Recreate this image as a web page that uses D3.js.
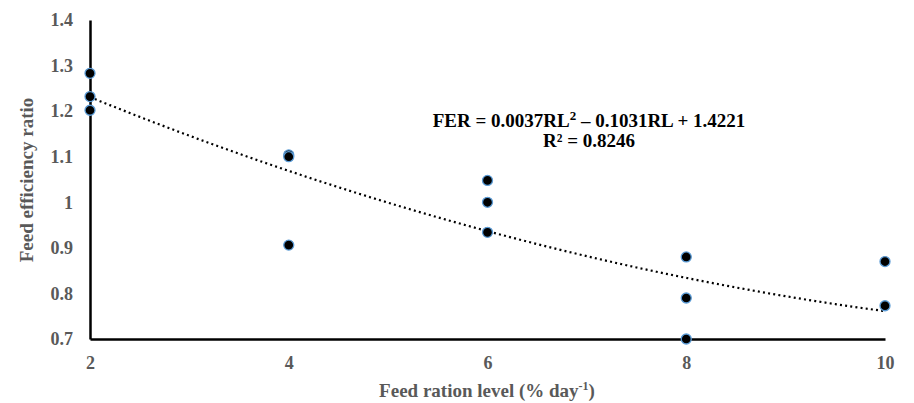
<!DOCTYPE html>
<html>
<head>
<meta charset="utf-8">
<script src="https://cdn.jsdelivr.net/npm/d3@7"></script>
<style>
  body { margin: 0; background: #fff; }
  svg text { font-family: "Liberation Serif", "Times New Roman", serif; font-weight: bold; }
</style>
</head>
<body>
<div id="chart"></div>
<script>
// ration level (% per day) and feed efficiency ratio
var rationLevel = [2, 2, 2, 4, 4, 4, 6, 6, 6, 8, 8, 8, 10, 10];
var fer = [1.283, 1.232, 1.202, 1.104, 1.100, 0.906, 1.048, 1.000, 0.934, 0.880, 0.790, 0.700, 0.870, 0.773];

// quadratic trendline coefficients from the label: a*x^2 + b*x + c
var trendCoef = [0.0037, -0.1031, 1.4221];

var xTicks = [2, 4, 6, 8, 10];
var yTicks = [0.7, 0.8, 0.9, 1, 1.1, 1.2, 1.3, 1.4];

var svgWidth = 914;
var svgHeight = 403;

var svg = d3.select("#chart")
    .append("svg")
        .attr("width", svgWidth)
        .attr("height", svgHeight);

var xScale = d3.scaleLinear()
    .domain([2, 10])
    .range([90, 885]);

var yScale = d3.scaleLinear()
    .domain([0.7, 1.4])
    .range([339, 20]);

var grey = "#595959";

// x axis
var xAxis = d3.axisBottom(xScale)
    .tickValues(xTicks)
    .tickSize(0)
    .tickPadding(17)
    .tickFormat(d3.format("d"));

var gx = svg.append("g")
    .attr("transform", `translate(0, ${yScale(0.7)})`)
    .call(xAxis);
gx.select(".domain").attr("stroke", "#000").attr("stroke-width", 2.5);
gx.selectAll("text")
    .attr("fill", grey)
    .style("font-size", "18px")
    .style("font-family", "'Liberation Serif', serif");

// y axis
var yAxis = d3.axisLeft(yScale)
    .tickValues(yTicks)
    .tickSize(0)
    .tickPadding(17)
    .tickFormat(function (d) { return String(d); });

var gy = svg.append("g")
    .attr("transform", `translate(${xScale(2)}, 0)`)
    .call(yAxis);
gy.select(".domain").attr("stroke", "#000").attr("stroke-width", 2.5);
gy.selectAll("text")
    .attr("fill", grey)
    .style("font-size", "18px")
    .style("font-family", "'Liberation Serif', serif");

// trendline
var trendX = d3.range(2, 10.001, 0.1);
var line = d3.line()
    .x(function (d) { return xScale(d); })
    .y(function (d) { return yScale(trendCoef[0] * d * d + trendCoef[1] * d + trendCoef[2]); });

svg.append("path")
    .datum(trendX)
    .attr("d", line)
    .attr("fill", "none")
    .attr("stroke", "#000")
    .attr("stroke-width", 2.2)
    .attr("stroke-dasharray", "2,3.2");

// points
svg.selectAll("circle.pt")
    .data(rationLevel)
    .enter()
    .append("circle")
        .attr("class", "pt")
        .attr("cx", function (d) { return xScale(d); })
        .attr("cy", function (d, i) { return yScale(fer[i]); })
        .attr("r", 5)
        .attr("fill", "#000")
        .attr("stroke", "#5b9bd5")
        .attr("stroke-width", 1.3);

// equation label
var eq = svg.append("text")
    .attr("x", 589)
    .attr("y", 127)
    .attr("text-anchor", "middle")
    .attr("fill", "#000")
    .style("font-size", "19px");
eq.append("tspan").text("FER = 0.0037RL");
eq.append("tspan").attr("dy", -7).style("font-size", "13px").text("2");
eq.append("tspan").attr("dy", 7).text(" \u2013 0.1031RL + 1.4221");

svg.append("text")
    .attr("x", 589)
    .attr("y", 147)
    .attr("text-anchor", "middle")
    .attr("fill", "#000")
    .style("font-size", "19px")
    .text("R\u00b2 = 0.8246");

// axis titles
var xt = svg.append("text")
    .attr("x", 487)
    .attr("y", 397)
    .attr("text-anchor", "middle")
    .attr("fill", grey)
    .style("font-size", "19px");
xt.append("tspan").text("Feed ration level (% day");
xt.append("tspan").attr("dy", -7).style("font-size", "12px").text("-1");
xt.append("tspan").attr("dy", 7).text(")");

svg.append("text")
    .attr("transform", "translate(33, 180) rotate(-90)")
    .attr("text-anchor", "middle")
    .attr("fill", grey)
    .style("font-size", "19px")
    .text("Feed efficiency ratio");
</script>
</body>
</html>
